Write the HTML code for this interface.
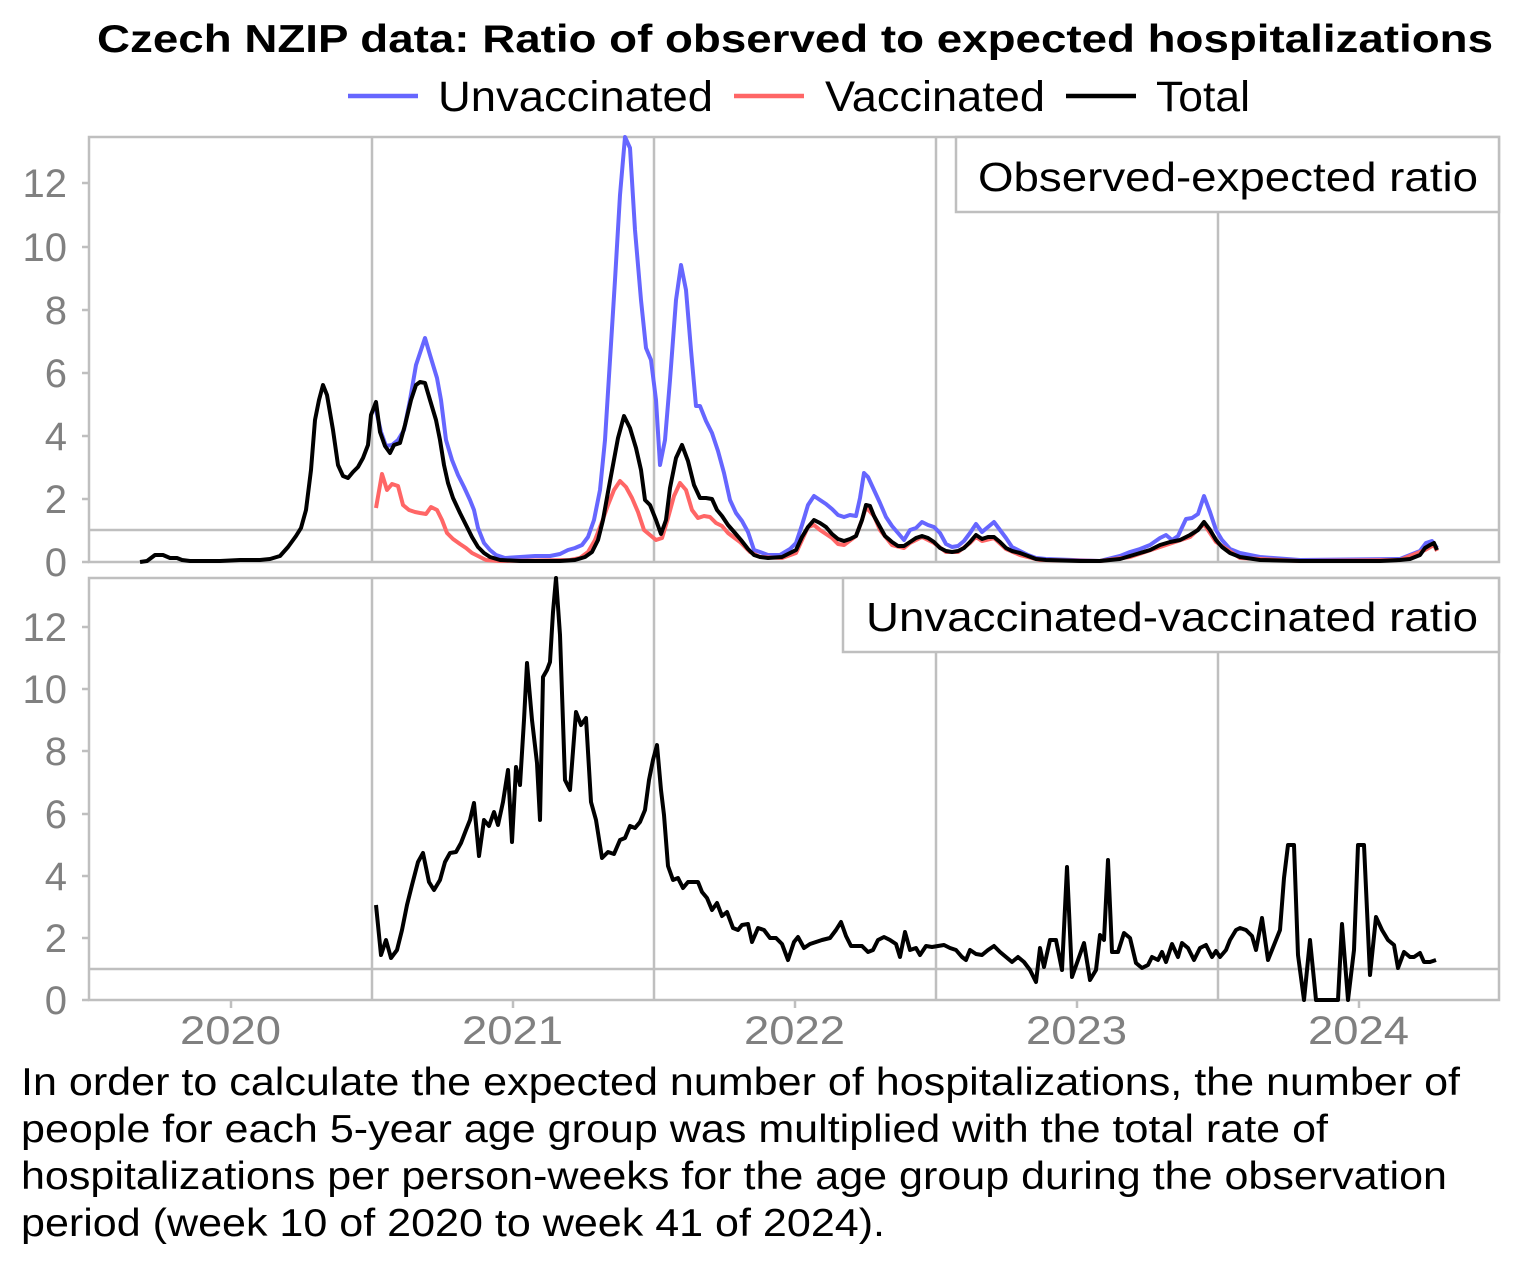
<!DOCTYPE html>
<html><head><meta charset="utf-8"><style>
html,body{margin:0;padding:0;background:#fff;}
svg{display:block;font-family:"Liberation Sans",Arial,sans-serif;}
</style></head><body>
<svg width="1522" height="1268" viewBox="0 0 1522 1268" xmlns="http://www.w3.org/2000/svg">
<rect width="1522" height="1268" fill="#fff"/>
<text x="97" y="52" font-size="39" font-weight="bold" textLength="1396" lengthAdjust="spacingAndGlyphs">Czech NZIP data: Ratio of observed to expected hospitalizations</text>
<g font-size="43">
<line x1="348" y1="96" x2="418" y2="96" stroke="#6666ff" stroke-width="4.5"/>
<text x="438" y="111" textLength="275" lengthAdjust="spacingAndGlyphs">Unvaccinated</text>
<line x1="734" y1="96" x2="804" y2="96" stroke="#ff6666" stroke-width="4.5"/>
<text x="825" y="111" textLength="220" lengthAdjust="spacingAndGlyphs">Vaccinated</text>
<line x1="1066" y1="96" x2="1136" y2="96" stroke="#000" stroke-width="4.5"/>
<text x="1156" y="111" textLength="94" lengthAdjust="spacingAndGlyphs">Total</text>
</g>
<g stroke="#bfbfbf" stroke-width="2.5" fill="none">
<rect x="89" y="137" width="1410" height="425"/>
<rect x="89" y="578" width="1410" height="422"/>
<line x1="372" y1="137" x2="372" y2="562"/><line x1="654" y1="137" x2="654" y2="562"/><line x1="936" y1="137" x2="936" y2="562"/><line x1="1218" y1="137" x2="1218" y2="562"/>
<line x1="372" y1="578" x2="372" y2="1000"/><line x1="654" y1="578" x2="654" y2="1000"/><line x1="936" y1="578" x2="936" y2="1000"/><line x1="1218" y1="578" x2="1218" y2="1000"/>
<line x1="89" y1="530" x2="1499" y2="530"/>
<line x1="89" y1="969" x2="1499" y2="969"/>
<path d="M82 562H89M82 499H89M82 436H89M82 373H89M82 310H89M82 247H89M82 183H89"/>
<path d="M82 1000H89M82 938H89M82 876H89M82 814H89M82 751H89M82 689H89M82 627H89"/>
<path d="M231 1000V1008M513 1000V1008M795 1000V1008M1077 1000V1008M1359 1000V1008"/>
</g>
<g font-size="40" fill="#808080" text-anchor="end">
<text x="67" y="576">0</text><text x="67" y="513">2</text><text x="67" y="450">4</text><text x="67" y="387">6</text><text x="67" y="324">8</text><text x="67" y="261">10</text><text x="67" y="197">12</text>
<text x="67" y="1014">0</text><text x="67" y="952">2</text><text x="67" y="890">4</text><text x="67" y="828">6</text><text x="67" y="765">8</text><text x="67" y="703">10</text><text x="67" y="641">12</text>
</g>
<g font-size="40" fill="#808080">
<text x="180" y="1044" textLength="101" lengthAdjust="spacingAndGlyphs">2020</text><text x="462" y="1044" textLength="101" lengthAdjust="spacingAndGlyphs">2021</text><text x="744" y="1044" textLength="101" lengthAdjust="spacingAndGlyphs">2022</text><text x="1026" y="1044" textLength="101" lengthAdjust="spacingAndGlyphs">2023</text><text x="1308" y="1044" textLength="101" lengthAdjust="spacingAndGlyphs">2024</text>
</g>
<rect x="956" y="137" width="543" height="75" fill="#fff" stroke="#bfbfbf" stroke-width="2.5"/>
<text x="978" y="191" font-size="41" textLength="500" lengthAdjust="spacingAndGlyphs">Observed-expected ratio</text>
<rect x="843" y="578" width="656" height="74" fill="#fff" stroke="#bfbfbf" stroke-width="2.5"/>
<text x="866" y="631" font-size="41" textLength="612" lengthAdjust="spacingAndGlyphs">Unvaccinated-vaccinated ratio</text>
<g fill="none" stroke-width="4" stroke-linejoin="round">
<polyline stroke="#6666ff" points="376,410 381,432 386,446 392,445 398,440 404,430 410,400 416,365 421,350 425,338 430,355 437,378 441,400 446,440 452,460 458,475 464,487 470,500 474,510 478,528 484,543 490,550 496,555 505,558 520,557 535,556 550,556 560,554 568,550 575,548 582,545 588,537 594,520 600,490 605,440 610,360 615,280 620,195 625,137 630,148 635,230 641,300 646,348 651,360 656,400 660,465 665,440 670,380 676,300 681,265 686,290 691,350 696,406 700,406 706,421 712,433 718,451 724,473 730,500 736,513 742,521 748,532 754,550 760,552 768,555 780,555 790,549 796,543 802,525 808,505 814,496 820,500 826,504 832,509 838,515 844,517 850,515 856,516 860,498 864,473 868,477 874,490 880,503 886,517 892,526 898,533 904,540 910,530 916,528 922,522 928,525 934,527 940,533 946,544 952,547 958,546 964,541 970,533 976,524 982,532 988,527 994,522 1000,530 1006,538 1012,547 1020,551 1028,555 1036,558 1046,559 1100,561 1120,556 1130,552 1140,549 1150,545 1160,538 1166,535 1172,540 1178,536 1186,519 1192,518 1198,514 1204,496 1210,512 1216,530 1222,540 1230,549 1240,553 1260,557 1300,560 1400,559 1420,551 1426,543 1432,541 1437,548"/>
<polyline stroke="#ff6666" points="376,508 382,474 387,490 392,484 398,486 403,505 409,510 415,512 420,513 426,514 431,507 437,510 442,520 447,533 453,539 460,544 466,548 472,553 478,556 486,560 500,561 570,560 580,558 588,552 595,540 602,522 608,505 614,490 620,481 626,487 632,498 638,512 644,530 650,535 656,540 662,538 668,518 674,496 680,483 686,490 692,510 698,518 704,516 710,517 716,523 722,526 728,533 740,542 750,552 760,557 782,558 796,553 808,527 814,525 820,530 832,538 838,544 844,545 856,536 862,520 866,507 874,516 880,530 892,545 904,548 910,543 922,537 934,543 946,552 958,552 970,543 976,537 982,541 994,538 1006,549 1020,555 1040,560 1100,561 1130,557 1160,547 1190,537 1204,524 1216,542 1240,558 1300,561 1400,560 1425,550 1434,545 1437,551"/>
<polyline stroke="#000" points="140,562 147,561 155,555 163,555 170,558 177,558 182,560 190,561 200,561 220,561 240,560 260,560 270,559 280,556 288,547 296,536 301,528 306,510 311,470 315,420 319,400 323,385 327,395 333,430 338,465 343,476 348,478 353,472 358,467 363,458 368,445 371,415 376,402 380,432 385,446 390,453 394,445 400,443 405,425 411,400 416,385 420,382 425,383 430,400 436,420 440,440 444,465 448,483 453,498 460,513 466,525 472,537 478,547 484,553 490,557 500,560 520,561 560,561 575,560 585,557 592,552 598,540 603,520 608,492 613,465 618,438 624,416 630,428 636,448 641,470 645,500 650,505 656,520 661,534 666,520 670,488 676,458 682,445 688,461 694,485 700,498 706,498 712,499 717,510 722,516 728,525 735,533 741,540 748,549 754,555 760,557 768,558 782,557 790,553 796,550 802,537 808,527 814,520 820,523 826,527 832,534 838,539 844,541 850,539 856,536 862,520 866,505 870,506 874,516 880,527 885,536 892,542 898,546 904,546 910,542 916,538 922,536 928,538 934,542 940,548 946,551 952,552 958,551 964,548 970,542 976,535 982,539 988,537 994,537 1000,542 1006,548 1012,551 1020,553 1028,556 1036,559 1046,560 1080,561 1100,561 1110,560 1120,559 1130,556 1140,553 1150,550 1160,545 1170,542 1180,540 1190,535 1198,530 1204,522 1210,530 1216,540 1222,547 1230,553 1240,557 1260,560 1300,561 1350,561 1380,561 1400,560 1410,559 1420,555 1425,548 1430,545 1434,543 1437,550"/>
<polyline stroke="#000" points="376,905 381,955 386,940 391,958 397,950 402,930 407,905 412,885 418,862 423,853 429,882 434,890 440,880 445,862 450,853 456,852 461,843 466,830 470,820 474,803 479,856 484,820 489,826 494,812 498,825 503,802 508,770 512,842 516,767 520,785 524,720 527,663 532,720 537,763 540,820 543,677 547,670 550,662 553,612 556,578 560,635 565,780 570,790 576,712 581,725 586,718 591,802 596,820 602,858 608,852 614,854 620,840 625,838 630,826 635,828 640,822 645,810 649,780 653,760 657,745 661,790 664,815 668,866 673,880 678,878 683,888 688,882 694,882 698,882 702,892 707,898 712,910 717,903 722,916 727,912 733,928 738,930 742,925 748,924 752,942 758,928 764,930 770,938 776,938 782,944 788,960 794,942 798,937 804,948 810,944 816,942 822,940 830,938 836,930 841,922 846,936 851,946 856,946 862,946 868,952 873,950 878,940 884,937 890,940 896,944 900,957 905,932 910,950 916,948 920,955 926,946 932,947 938,946 944,945 950,948 956,950 962,957 966,960 970,950 976,954 982,955 988,950 994,946 1000,952 1006,957 1012,962 1018,957 1024,962 1030,970 1036,982 1040,948 1044,967 1050,940 1056,940 1062,970 1067,867 1072,977 1078,960 1084,943 1090,980 1096,970 1100,935 1104,940 1108,860 1112,952 1118,952 1124,933 1130,938 1136,963 1142,968 1148,965 1152,957 1158,960 1162,952 1166,962 1172,944 1178,957 1182,943 1188,948 1194,960 1200,948 1206,945 1212,957 1216,951 1220,957 1226,950 1230,940 1236,930 1240,928 1246,930 1252,936 1256,950 1262,918 1268,960 1272,950 1276,940 1280,930 1284,878 1288,845 1294,845 1298,955 1304,1000 1310,940 1316,1000 1324,1000 1330,1000 1338,1000 1342,924 1348,1000 1354,950 1358,845 1364,845 1370,975 1376,917 1382,930 1388,940 1394,945 1398,968 1404,952 1410,957 1414,957 1420,953 1424,962 1430,962 1436,960"/>
</g>
<g font-size="39" fill="#000">
<text x="21" y="1095" textLength="1439" lengthAdjust="spacingAndGlyphs">In order to calculate the expected number of hospitalizations, the number of</text>
<text x="21" y="1142" textLength="1307" lengthAdjust="spacingAndGlyphs">people for each 5-year age group was multiplied with the total rate of</text>
<text x="21" y="1189" textLength="1426" lengthAdjust="spacingAndGlyphs">hospitalizations per person-weeks for the age group during the observation</text>
<text x="21" y="1236" textLength="864" lengthAdjust="spacingAndGlyphs">period (week 10 of 2020 to week 41 of 2024).</text>
</g>
</svg>
</body></html>
